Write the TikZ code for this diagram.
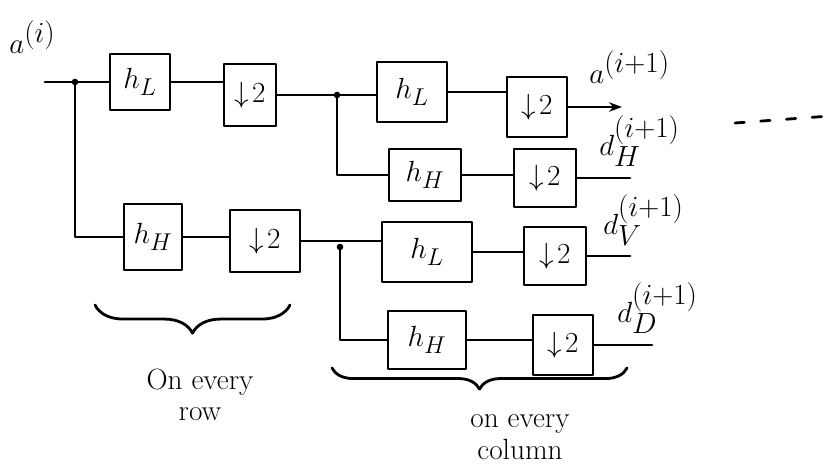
\documentclass[tikz,border=0pt]{standalone}
\usetikzlibrary{arrows.meta,decorations.pathreplacing}
\begin{document}
\begin{tikzpicture}[x=0.03cm,y=-0.03cm,
  line width=2.4pt, line cap=round, line join=round,
  fbox/.style={draw, inner sep=0pt, font=\fontsize{30}{34}\selectfont},
  lbl/.style={inner sep=0pt, anchor=base west, font=\fontsize{36}{40}\selectfont},
  txt/.style={inner sep=0pt, align=center, font=\fontsize{25}{27}\selectfont},
  brc/.style={decorate, decoration={brace, mirror, amplitude=#1}}]
\useasboundingbox (0,0) rectangle (830,470);
% first stage
\node[fbox, minimum width=1.8cm, minimum height=1.68cm] (hL1) at (140,82) {$h_L$};
\node[fbox, minimum width=1.56cm, minimum height=1.86cm] (ds1) at (250,95) {$\downarrow\!2$};
\node[fbox, minimum width=1.74cm, minimum height=1.98cm] (hH1) at (153,237) {$h_H$};
\node[fbox, minimum width=2.1cm, minimum height=1.86cm] (ds4) at (265,241) {$\downarrow\!2$};
% second stage, upper
\node[fbox, minimum width=2.1cm, minimum height=1.8cm] (hL2) at (412,92) {$h_L$};
\node[fbox, minimum width=1.8cm, minimum height=1.8cm] (ds2) at (537,107) {$\downarrow\!2$};
\node[fbox, minimum width=2.16cm, minimum height=1.56cm] (hH2) at (425,175) {$h_H$};
\node[fbox, minimum width=1.86cm, minimum height=1.74cm] (ds3) at (545,178) {$\downarrow\!2$};
% second stage, lower
\node[fbox, minimum width=2.7cm, minimum height=1.8cm] (hL3) at (427,252) {$h_L$};
\node[fbox, minimum width=1.86cm, minimum height=1.74cm] (ds5) at (555,256) {$\downarrow\!2$};
\node[fbox, minimum width=2.34cm, minimum height=1.74cm] (hH3) at (427,340) {$h_H$};
\node[fbox, minimum width=1.8cm, minimum height=1.8cm] (ds6) at (563,345) {$\downarrow\!2$};
% coordinates
\coordinate (in) at (45,82);
\coordinate (b1) at (75,82);
\coordinate (b2) at (337,95);
\coordinate (b3) at (340,247);
\coordinate (aout) at (622,107);
\coordinate (hout) at (630,178);
\coordinate (vout) at (630,256);
\coordinate (dout) at (652,345);
% connectors
\draw (in) -- (hL1.west);
\draw (b1) |- (hH1.west);
\draw (hL1.east) -- (hL1.east -| ds1.west);
\draw (ds1.east) -- (ds1.east -| hL2.west);
\draw (b2) |- (hH2.west);
\draw (hL2.east) -- (hL2.east -| ds2.west);
\draw[-{Stealth[length=11pt,width=8pt]}] (ds2.east) -- (aout);
\draw (hH2.east) -- (hH2.east -| ds3.west);
\draw (ds3.east) -- (hout);
\draw (hH1.east) -- (hH1.east -| ds4.west);
\draw (ds4.east) -- (ds4.east -| hL3.west);
\draw (b3) |- (hH3.west);
\draw (hL3.east) -- (hL3.east -| ds5.west);
\draw (ds5.east) -- (vout);
\draw (hH3.east) -- (hH3.east -| ds6.west);
\draw (ds6.east) -- (dout);
\fill (b1) circle (2.8pt) (b2) circle (2.8pt) (b3) circle (2.8pt);
% labels
\node[lbl] (la) at (8,53) {$a^{(i)}$};
\node[lbl] (la1) at (588,83) {$a^{(i+1)}$};
\node[lbl] (ldh) at (598,155) {$d_H^{(i+1)}$};
\node[lbl] (ldv) at (602,234) {$d_V^{(i+1)}$};
\node[lbl] (ldd) at (616,322) {$d_D^{(i+1)}$};
% continuation dashes
\draw[dash pattern=on 8pt off 14pt] (735,123) -- (830,116);
% braces
\draw[brc=24pt] (95,305) -- (290,305);
\draw[brc=18pt] (332,368) -- (627,368);
\node[txt] (t1) at (200,395) {On every\\row};
\node[txt] (t2) at (520,437) {on every\\column};
\end{tikzpicture}
\end{document}
